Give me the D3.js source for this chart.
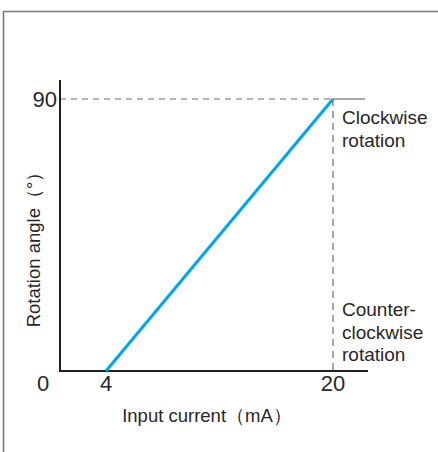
<!DOCTYPE html>
<html>
<head>
<meta charset="utf-8">
<script src="https://cdn.jsdelivr.net/npm/d3@7"></script>
<style>
  html, body { margin: 0; padding: 0; background: #fff; }
  svg { display: block; }
  text { font-family: "Liberation Sans", Arial, sans-serif; fill: #2a2627; }
</style>
</head>
<body>
<svg id="chart" width="438" height="452"></svg>
<script>
// Input current (mA) vs. rotation angle (degrees)
const current = [4, 20];
const angle = [0, 90];
const xTicks = [4, 20];
const yTicks = [90];
const cwLabel = ["Clockwise", "rotation"];
const ccwLabel = ["Counter-", "clockwise", "rotation"];

const svg = d3.select("#chart");

// outer frame (top and left edges)
svg.append("path")
  .attr("d", "M3.5,452 L3.5,11.5 L438,11.5")
  .attr("fill", "none").attr("stroke", "#7a7a7a").attr("stroke-width", 1.6);

const x0 = 60, y0 = 371;
const x = d3.scaleLinear().domain([4, 20]).range([106, 333]);
const y = d3.scaleLinear().domain([0, 90]).range([y0, 99]);

// guide lines at 90° and 20 mA
svg.append("line")
  .attr("x1", x0).attr("x2", x(20)).attr("y1", y(90)).attr("y2", y(90))
  .attr("stroke", "#6d6d6d").attr("stroke-width", 1.2).attr("stroke-dasharray", "6,5");
svg.append("line")
  .attr("x1", x(20)).attr("x2", 365).attr("y1", y(90)).attr("y2", y(90))
  .attr("stroke", "#6d6d6d").attr("stroke-width", 1.2);
svg.append("line")
  .attr("x1", x(20)).attr("x2", x(20)).attr("y1", y(90)).attr("y2", y0)
  .attr("stroke", "#6d6d6d").attr("stroke-width", 1.2).attr("stroke-dasharray", "7,5");

// axes
svg.append("path")
  .attr("d", `M${x0},80 L${x0},${y0} L368,${y0}`)
  .attr("fill", "none").attr("stroke", "#231f20").attr("stroke-width", 2);

// characteristic line
svg.append("path")
  .datum(current.map((c, i) => [c, angle[i]]))
  .attr("d", d3.line().x(d => x(d[0])).y(d => y(d[1])))
  .attr("fill", "none").attr("stroke", "#00a7e6").attr("stroke-width", 3);

// tick labels
svg.selectAll(".xt").data(xTicks).enter().append("text")
  .attr("x", d => x(d)).attr("y", 391)
  .attr("text-anchor", "middle").attr("font-size", 22).text(d => d);
svg.selectAll(".yt").data(yTicks).enter().append("text")
  .attr("x", 57).attr("y", d => y(d) + 8)
  .attr("text-anchor", "end").attr("font-size", 22).text(d => d);
svg.append("text").attr("x", 43).attr("y", 391)
  .attr("text-anchor", "middle").attr("font-size", 22).text("0");

// side labels
svg.append("g").selectAll("text").data(cwLabel).enter().append("text")
  .attr("x", 342).attr("y", (d, i) => 124 + i * 22.5)
  .attr("font-size", 19).text(d => d);
svg.append("g").selectAll("text").data(ccwLabel).enter().append("text")
  .attr("x", 342).attr("y", (d, i) => 316 + i * 22.5)
  .attr("font-size", 19).text(d => d);

// axis titles
svg.append("text").attr("x", 207).attr("y", 422)
  .attr("text-anchor", "middle").attr("font-size", 18.5).text("Input current（mA）");
svg.append("text")
  .attr("transform", "translate(40,245) rotate(-90)")
  .attr("text-anchor", "middle").attr("font-size", 18.5).text("Rotation angle（°）");
</script>
</body>
</html>
